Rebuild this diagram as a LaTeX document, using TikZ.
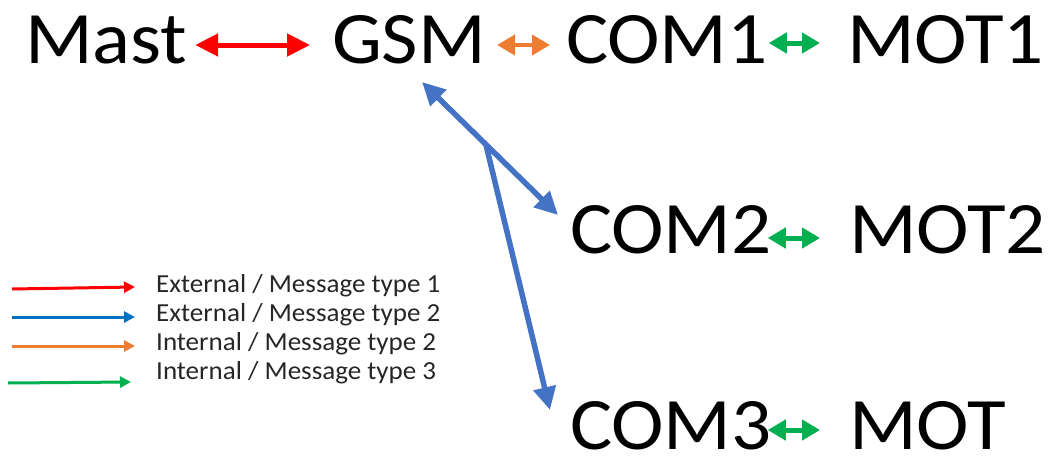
\documentclass[tikz,border=0pt]{standalone}
\usepackage{fontspec}
\setmainfont{Carlito}
\newfontfamily\unitfont[FakeStretch=1.07]{Carlito}
\newfontfamily\legfont[FakeStretch=1.04]{Carlito}
\usetikzlibrary{arrows.meta,calc}
\definecolor{extred}{HTML}{FF0000}
\definecolor{extblue}{HTML}{4472C4}
\definecolor{legblue}{HTML}{0070C0}
\definecolor{intorange}{HTML}{ED7D31}
\definecolor{intgreen}{HTML}{00B050}
\tikzset{
  unit/.style={inner sep=0pt, outer sep=0pt, anchor=base west,
    font=\unitfont\fontsize{74}{74}\selectfont},
  legtext/.style={inner sep=0pt, anchor=base west, text=black!85,
    font=\legfont\fontsize{26}{26}\selectfont},
  bigtip/.tip={Triangle[length=23pt,width=22pt]},
  smalltip/.tip={Triangle[length=18pt,width=20pt]},
  bluetip/.tip={Triangle[length=23pt,width=22pt]},
  legtip/.tip={Triangle[length=11pt,width=11pt]},
  link/.style={line width=5.5pt},
}
\begin{document}
\begin{tikzpicture}[x=1pt,y=-1pt]
\useasboundingbox (0,0) rectangle (1049,455);
% units
\node[unit] (mast) at (25,63) {Mast};
\node[unit] (gsm)  at (332,63) {GSM};
\node[unit] (com1) at (566,63) {COM1};
\node[unit] (mot1) at (847,63) {MOT1};
\node[unit] (com2) at (570,253) {COM2};
\node[unit] (mot2) at (849,253) {MOT2};
\node[unit] (com3) at (570,449) {COM3};
\node[unit] (mot)  at (849,449) {MOT};
% links along the rows
\draw[extred, line width=5pt, bigtip-bigtip]
  ([xshift=8pt,yshift=18pt]mast.base east) -- ([xshift=-22pt,yshift=18pt]gsm.base west);
\draw[intorange, line width=4pt, smalltip-smalltip]
  ([xshift=11pt,yshift=18pt]gsm.base east) -- ([xshift=-16pt,yshift=18pt]com1.base west);
\draw[intgreen, line width=5pt, smalltip-smalltip]
  ([xshift=1pt,yshift=20pt]com1.base east) -- ([xshift=-27pt,yshift=20pt]mot1.base west);
\draw[intgreen, line width=5pt, smalltip-smalltip]
  ([xshift=-4pt,yshift=15pt]com2.base east) -- ([xshift=-29pt,yshift=15pt]mot2.base west);
\draw[intgreen, line width=5pt, smalltip-smalltip]
  ([xshift=-4pt,yshift=19pt]com3.base east) -- ([xshift=-29pt,yshift=19pt]mot.base west);
% GSM to COM2 and COM3
\coordinate (gsmtip) at ([xshift=90pt,yshift=-19pt]gsm.base west);
\coordinate (com2tip) at ([xshift=-12pt,yshift=38pt]com2.base west);
\coordinate (split) at ($(gsmtip)!0.47!(com2tip)$);
\coordinate (com3tip) at ([xshift=-20pt,yshift=39pt]com3.base west);
\draw[extblue, link, bluetip-bluetip] (gsmtip) -- (com2tip);
\draw[extblue, link, -bluetip] (split) -- (com3tip);
% legend
\coordinate (l1a) at (12,289); \coordinate (l1b) at (135,287);
\coordinate (l2a) at (12,317); \coordinate (l2b) at (135,317);
\coordinate (l3a) at (12,346); \coordinate (l3b) at (135,346);
\coordinate (l4a) at (8,383);  \coordinate (l4b) at (131,382);
\draw[extred, line width=3pt, -legtip] (l1a) -- (l1b);
\draw[legblue, line width=3pt, -legtip] (l2a) -- (l2b);
\draw[intorange, line width=3pt, -legtip] (l3a) -- (l3b);
\draw[intgreen, line width=3pt, -legtip] (l4a) -- (l4b);
\node[legtext] (t1) at (156,292) {External / Message type 1};
\node[legtext] (t2) at (156,321) {External / Message type 2};
\node[legtext] (t3) at (156,350) {Internal / Message type 2};
\node[legtext] (t4) at (156,379) {Internal / Message type 3};
\end{tikzpicture}
\end{document}
